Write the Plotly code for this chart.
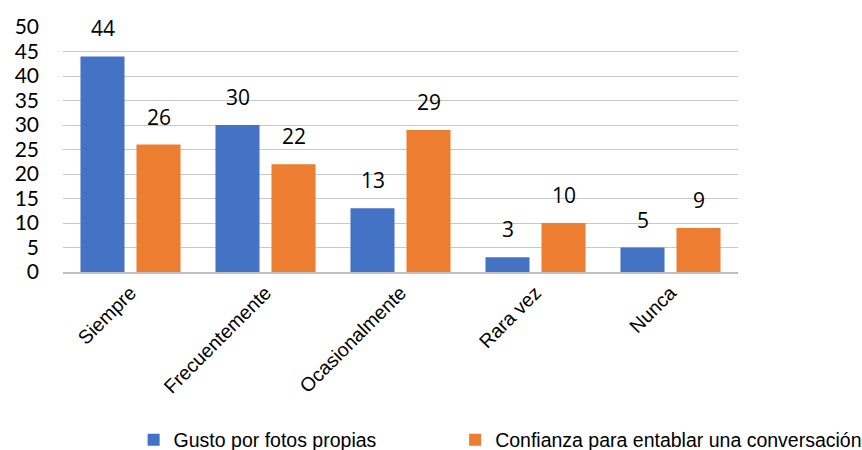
import plotly.graph_objects as go

categories = ["Siempre", "Frecuentemente", "Ocasionalmente", "Rara vez", "Nunca"]
gusto = [44, 30, 13, 3, 5]
confianza = [26, 22, 29, 10, 9]
series_names = ["Gusto por fotos propias", "Confianza para entablar una conversación"]
y_ticks = [0, 5, 10, 15, 20, 25, 30, 35, 40, 45, 50]

BLUE = "#4472C4"
ORANGE = "#ED7D31"
TICK_FONT = dict(family="Lato, Liberation Sans, sans-serif", size=21, color="#000000")
LABEL_FONT = dict(family="Open Sans, Lato, sans-serif", size=21, color="#000000")
TXT_FONT = dict(family="Liberation Sans, Arial, sans-serif", size=19.5, color="#000000")
LEG_FONT = dict(family="Liberation Sans, Arial, sans-serif", size=19.5, color="#000000")

fig = go.Figure()
fig.add_trace(go.Bar(x=categories, y=gusto, name=series_names[0], marker_color=BLUE,
                     marker_line_width=0, legend="legend"))
fig.add_trace(go.Bar(x=categories, y=confianza, name=series_names[1], marker_color=ORANGE,
                     marker_line_width=0, legend="legend2"))

annotations = []
for vals, shift in ((gusto, -28), (confianza, 28)):
    for c, v in zip(categories, vals):
        annotations.append(dict(x=c, y=v, text=str(v), showarrow=False, xshift=shift,
                                yanchor="bottom", yshift=12, font=LABEL_FONT))

legend_common = dict(orientation="h", xref="container", yref="container",
                     xanchor="left", y=0.022, yanchor="middle",
                     font=LEG_FONT, itemwidth=30, bgcolor="rgba(0,0,0,0)")

fig.update_layout(
    width=862, height=450,
    margin=dict(l=63, r=124, t=27, b=178, autoexpand=False),
    paper_bgcolor="white", plot_bgcolor="white",
    barmode="group", bargap=0.17, bargroupgap=0.214,
    annotations=annotations,
    showlegend=True,
    legend=dict(x=0.155, **legend_common),
    legend2=dict(x=0.528, **legend_common),
    xaxis=dict(tickangle=-45, tickfont=TXT_FONT, showline=True, linecolor="#BFBFBF",
               linewidth=1.5, showgrid=False, ticks="", automargin=False),
    yaxis=dict(range=[0, 50], tickvals=y_ticks, tickfont=TICK_FONT, showgrid=True,
               gridcolor="#C8C8C8", gridwidth=1, zeroline=False, showline=False,
               ticks="", ticklabelstandoff=23, automargin=False),
)

fig.write_html("out.html", config={"displayModeBar": False},
               post_script="document.body.style.margin='0';document.body.style.overflow='hidden';")
